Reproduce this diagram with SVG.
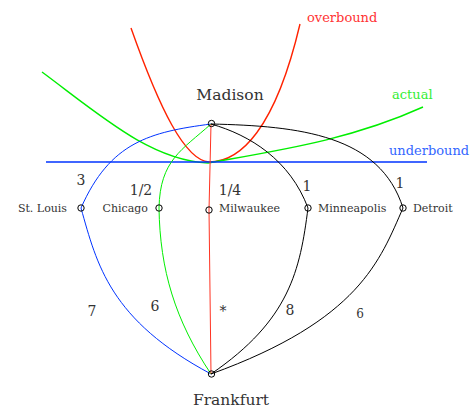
<svg xmlns="http://www.w3.org/2000/svg" width="472" height="409" viewBox="0 0 472 409">
<style>
text{font-family:"DejaVu Serif","Liberation Serif",serif;fill:#333}
.nl{font-size:11px}
.el{font-size:14px;text-anchor:middle}
.big{font-size:15.5px;text-anchor:middle}
.lab{font-size:13px}
.bound{fill:none;stroke-width:1.4}
.edge{fill:none;stroke-width:1}
.node{fill:none;stroke:#000;stroke-width:1}
</style>
<rect width="472" height="409" fill="#fff"/>
<g id="bounds">
<path class="bound" stroke="#ff2200" d="M131,28 C160,110 185,160 209,162 C240,162 275,130 300,24"/>
<path class="bound" stroke="#00ee00" d="M42,72 C100,115 150,160 208,163 C280,150 350,140 423,107"/>
<line class="bound" stroke="#0033ff" x1="46" y1="162" x2="427" y2="162"/>
<text class="lab" x="307" y="22" style="fill:#ff3333">overbound</text>
<text class="lab" x="392" y="99" style="fill:#33ee33">actual</text>
<text class="lab" x="389" y="155" style="fill:#3366ff">underbound</text>
</g>
<g id="connectors">
<path class="edge" stroke="#0033ff" d="M211,124 C150,132 110,142 81,208"/>
<path class="edge" stroke="#0033ff" d="M81,208 C97,265 110,320 211,374"/>
<path class="edge" stroke="#00ee00" d="M211,124 C182,150 160,160 159,208"/>
<path class="edge" stroke="#00ee00" d="M159,208 C160,270 175,320 211,374"/>
<path class="edge" stroke="#ff3322" d="M211,124 L209,210 L211,374"/>
<path class="edge" stroke="#000" d="M211,124 C250,135 290,160 308,208"/>
<path class="edge" stroke="#000" d="M308,208 C300,270 290,320 211,374"/>
<path class="edge" stroke="#000" d="M211,124 C300,126 380,135 403,208"/>
<path class="edge" stroke="#000" d="M403,208 C380,260 360,320 211,374"/>
<text class="el" x="81" y="185">3</text>
<text class="el" x="141" y="195">1/2</text>
<text class="el" x="230" y="195">1/4</text>
<text class="el" x="307" y="191">1</text>
<text class="el" x="400" y="188">1</text>
<text class="el" x="92" y="316">7</text>
<text class="el" x="155" y="311">6</text>
<text class="el" x="223" y="316">*</text>
<text class="el" x="290" y="315">8</text>
<text class="el" x="360" y="318" style="font-size:12px">6</text>
</g>
<g id="madison"><circle class="node" cx="211.5" cy="123.5" r="3.2"/><text class="big" x="230" y="100">Madison</text></g>
<g id="frankfurt"><circle class="node" cx="211.5" cy="374" r="3.2"/><text class="big" x="231" y="405">Frankfurt</text></g>
<g id="stlouis"><circle class="node" cx="81" cy="208" r="3.2"/><text class="nl" x="67" y="212" text-anchor="end">St. Louis</text></g>
<g id="chicago"><circle class="node" cx="159" cy="208" r="3.2"/><text class="nl" x="148" y="212" text-anchor="end">Chicago</text></g>
<g id="milwaukee"><circle class="node" cx="209" cy="210" r="3.2"/><text class="nl" x="219" y="212">Milwaukee</text></g>
<g id="minneapolis"><circle class="node" cx="308" cy="208" r="3.2"/><text class="nl" x="318" y="212">Minneapolis</text></g>
<g id="detroit"><circle class="node" cx="403" cy="208" r="3.2"/><text class="nl" x="413" y="212">Detroit</text></g>
</svg>
